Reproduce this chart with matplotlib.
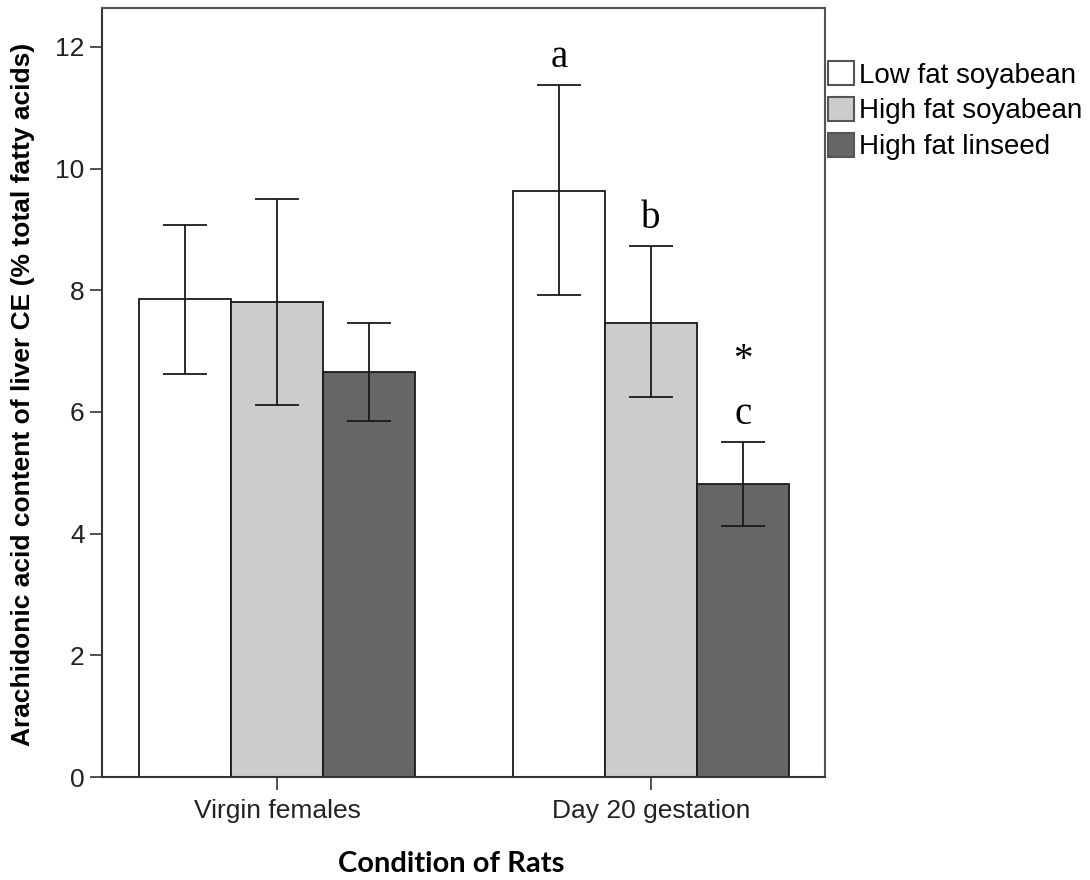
import numpy as np
import matplotlib.pyplot as plt

conditions = ['Virgin females', 'Day 20 gestation']
diets = ['Low fat soyabean', 'High fat soyabean', 'High fat linseed']
colors = ['#ffffff', '#cccccc', '#666666']

means = [[7.85, 9.64],
         [7.80, 7.47],
         [6.65, 4.82]]
upper = [[9.08, 11.38],
         [9.50, 8.73],
         [7.46, 5.51]]
lower = [[6.62, 7.92],
         [6.11, 6.24],
         [5.85, 4.13]]

# significance letters (condition index, diet index, text)
letters = [(1, 0, 'a'), (1, 1, 'b'), (1, 2, 'c')]

fig = plt.figure(figsize=(10.9, 8.8), dpi=100)
ax = fig.add_axes([102 / 1090, 103 / 880, 723 / 1090, 769 / 880])

x = np.arange(len(conditions))
width = 0.246
for i, diet in enumerate(diets):
    pos = x + (i - 1) * width
    m = np.array(means[i])
    err = [m - np.array(lower[i]), np.array(upper[i]) - m]
    ax.bar(pos, m, width, color=colors[i], edgecolor='#1a1a1a', linewidth=1.3,
           label=diet, zorder=2)
    ax.errorbar(pos, m, yerr=err, fmt='none', ecolor='#1a1a1a', elinewidth=1.3,
                capsize=16, capthick=1.3, zorder=3)

for ci, di, txt in letters:
    pos = x[ci] + (di - 1) * width
    ax.text(pos, upper[di][ci] + 0.45, txt, ha='center', va='center',
            fontsize=28, family='Liberation Serif')
ax.text(x[1] + width, upper[2][1] + 1.33, '*', ha='center', va='center',
        fontsize=28, family='Liberation Serif')

ax.set_xlim(-0.468, 1.465)
ax.set_ylim(0, 12.64)
ax.set_yticks([0, 2, 4, 6, 8, 10, 12])
ax.set_xticks(x)
ax.set_xticklabels(conditions)
ax.tick_params(axis='both', labelsize=19, length=9, width=1.2, color='#333333',
               labelcolor='#222222')
ax.tick_params(axis='x', pad=7)
for lab in ax.get_xticklabels() + ax.get_yticklabels():
    lab.set_family('Liberation Sans')
for s in ax.spines.values():
    s.set_color('#555555')
    s.set_linewidth(1.5)
ax.spines['bottom'].set_color('#333333')
ax.spines['left'].set_color('#333333')

ax.set_ylabel('Arachidonic acid content of liver CE (% total fatty acids)',
              fontsize=19, fontweight='bold', family='Liberation Sans')
ax.yaxis.set_label_coords(-0.093, 0.497)
ax.set_xlabel('Condition of Rats', fontsize=21, fontweight='bold', family='Lato')
ax.xaxis.set_label_coords(0.483, -0.096)

leg = fig.legend(loc='upper left', bbox_to_anchor=(828 / 1090, 1 - 61 / 880),
                 frameon=False, handlelength=0.95, handleheight=0.95,
                 handletextpad=0.15, labelspacing=0.3, borderpad=0, borderaxespad=0,
                 prop={'family': 'Liberation Sans', 'size': 20})
for h in leg.legend_handles:
    h.set_edgecolor('#555555')
    h.set_linewidth(1.5)

fig.savefig('out.png', dpi=100)
